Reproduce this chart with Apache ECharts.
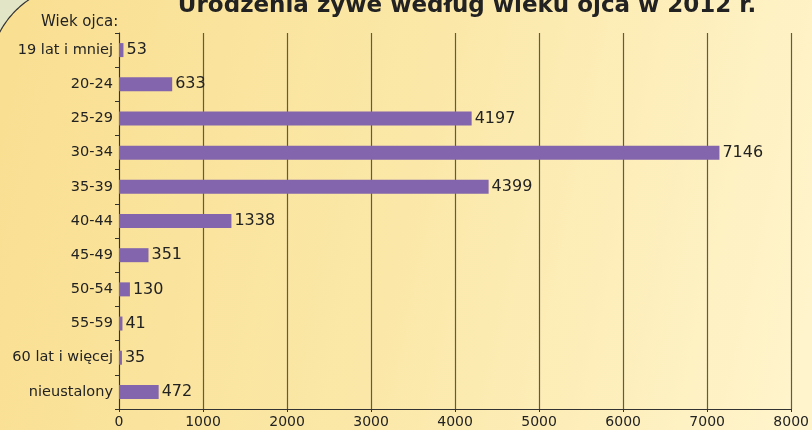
<!DOCTYPE html>
<html>
<head>
<meta charset="utf-8">
<script src="https://cdn.jsdelivr.net/npm/echarts@6/dist/echarts.min.js"></script>
<style>
  html, body { margin: 0; padding: 0; }
  #chart { width: 812px; height: 430px; }
</style>
</head>
<body>
<div id="chart"></div>
<script>
// grupy wieku ojca
var categories = ['19 lat i mniej', '20-24', '25-29', '30-34', '35-39', '40-44',
                  '45-49', '50-54', '55-59', '60 lat i więcej', 'nieustalony'];
// urodzenia zywe
var births = [53, 633, 4197, 7146, 4399, 1338, 351, 130, 41, 35, 472];
var xTicks = [0, 1000, 2000, 3000, 4000, 5000, 6000, 7000, 8000];

var chart = echarts.init(document.getElementById('chart'));
var font = 'DejaVu Sans';

// luk zaokraglonego rogu (dekoracja tla)
var arcPts = [];
for (var a = 206; a <= 236; a += 1) {
    var r = a * Math.PI / 180;
    arcPts.push([80 + 91 * Math.cos(r), 75 + 91 * Math.sin(r)]);
}
var cornerPts = arcPts.concat([[0, 0]]);

var option = {
    animation: false,
    backgroundColor: {
        type: 'linear', x: 0, y: 0.3, x2: 1, y2: 0.7,
        colorStops: [
            { offset: 0, color: '#f9df92' },
            { offset: 0.5, color: '#fbe8a8' },
            { offset: 1, color: '#fff4cb' }
        ]
    },
    graphic: [
        {
            type: 'polygon',
            shape: { points: cornerPts },
            style: { fill: '#e2e6c6' }
        },
        {
            type: 'polyline',
            shape: { points: arcPts },
            style: { fill: null, stroke: '#333', lineWidth: 1.2 }
        }
    ],
    title: [
        {
            text: 'Urodzenia żywe według wieku ojca w 2012 r.',
            left: 462, textAlign: 'center', top: -10,
            textStyle: { fontFamily: font, fontSize: 23, fontWeight: 'bold', color: '#222' }
        },
        {
            text: 'Wiek ojca:',
            left: 36, top: 10,
            textStyle: { fontFamily: font, fontSize: 15, fontWeight: 'normal', color: '#222' }
        }
    ],
    grid: { left: 119, right: 20, top: 33, bottom: 21, containLabel: false },
    xAxis: {
        type: 'value',
        min: 0, max: 8000, interval: 1000,
        axisLine: { show: true, lineStyle: { color: '#333', width: 1 } },
        axisTick: { show: true, length: 3, lineStyle: { color: '#333' } },
        axisLabel: {
            fontFamily: font, fontSize: 14, color: '#222', margin: 6,
            formatter: function (v) { return xTicks.indexOf(v) >= 0 ? String(v) : ''; }
        },
        splitLine: { show: true, lineStyle: { color: '#625a48', width: 1.2 } }
    },
    yAxis: {
        type: 'category',
        data: categories,
        inverse: true,
        axisLine: { show: true, lineStyle: { color: '#333', width: 1 } },
        axisTick: { show: true, length: 4, lineStyle: { color: '#333' } },
        axisLabel: { fontFamily: font, fontSize: 14.5, color: '#222', margin: 6 }
    },
    series: [
        {
            name: 'Urodzenia',
            type: 'bar',
            data: births,
            barWidth: 14,
            itemStyle: { color: '#8365ad' },
            label: {
                show: true, position: 'right', distance: 3,
                fontFamily: font, fontSize: 16, color: '#222'
            }
        }
    ]
};

option && chart.setOption(option);
</script>
</body>
</html>
